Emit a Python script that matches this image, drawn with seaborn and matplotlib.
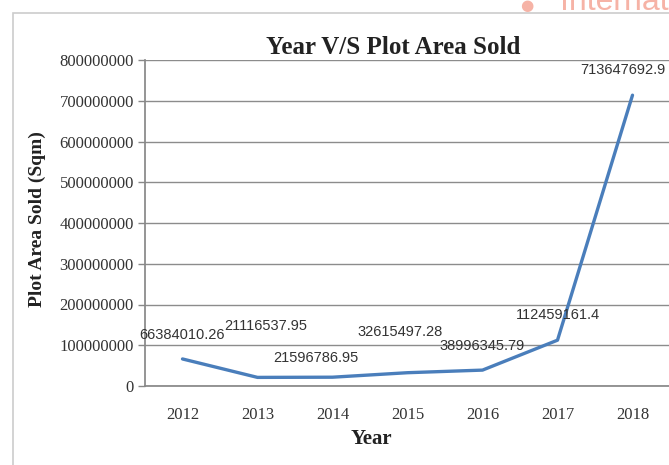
import matplotlib
matplotlib.use("Agg")
import matplotlib.pyplot as plt
from matplotlib.patches import Rectangle
import seaborn as sns
import pandas as pd

years = ["2012", "2013", "2014", "2015", "2016", "2017", "2018"]
area_sold = [66384010.26, 21116537.95, 21596786.95, 32615497.28,
             38996345.79, 112459161.4, 713647692.9]
label_texts = ["66384010.26", "21116537.95", "21596786.95", "32615497.28",
               "38996345.79", "112459161.4", "713647692.9"]
y_ticks = [0, 100000000, 200000000, 300000000, 400000000,
           500000000, 600000000, 700000000, 800000000]

sns.set_theme(style="white")
plt.rcParams["font.family"] = ["Liberation Serif", "DejaVu Serif"]

df = pd.DataFrame({"pos": range(len(years)), "Year": years, "Area": area_sold})

W, H = 669, 465
fig = plt.figure(figsize=(W / 100, H / 100), dpi=100)
fig.patch.set_facecolor("white")

# outer chart frame
fig.patches.append(Rectangle((13 / W, -0.01), 1.0, 1 - 13 / H + 0.01,
                             transform=fig.transFigure, fill=False,
                             edgecolor="#cccccc", linewidth=1.2))

ax = fig.add_axes([145 / W, 1 - 386 / H, (670 - 145) / W, (386 - 60) / H])
sns.lineplot(data=df, x="pos", y="Area", ax=ax, color="#4a7ebb",
             linewidth=2.4, legend=False)

ax.set_xlim(-0.5, len(years) - 0.5)
ax.set_ylim(0, 800000000)
ax.set_yticks(y_ticks)
ax.set_yticklabels([str(v) for v in y_ticks], fontsize=12, color="#333333",
                   family=["Liberation Serif"])
ax.set_xticks(range(len(years)))
ax.set_xticklabels(years, fontsize=12, color="#333333")
ax.set_xticks([i - 0.5 for i in range(len(years) + 1)], minor=True)
ax.tick_params(axis="x", which="major", length=0, pad=15)
ax.tick_params(axis="x", which="minor", length=5, color="#888888", width=1)
ax.tick_params(axis="y", length=5, color="#888888", width=1, pad=3, left=True)
ax.yaxis.grid(True, color="#8c8c8c", linewidth=1)
ax.set_axisbelow(True)
for s in ["top", "right"]:
    ax.spines[s].set_visible(False)
ax.spines["left"].set_color("#888888")
ax.spines["bottom"].set_color("#888888")
ax.set_xlabel("")
ax.set_ylabel("")

# data labels (offsets in pixels)
offsets = [(-1, 24), (8, 51), (-17, 19), (-7, 41), (0, 24), (0, 25), (-10, 25)]
for i, (txt, (dx, dy)) in enumerate(zip(label_texts, offsets)):
    ax.annotate(txt, (i, area_sold[i]), xytext=(dx, dy),
                textcoords="offset pixels", ha="center", va="center",
                fontsize=10.5, color="#333333", family=["Liberation Sans"])

fig.text(393 / W, 1 - 47 / H, "Year V/S Plot Area Sold", ha="center",
         va="center", fontsize=18, fontweight="bold", color="#222222")
fig.text(371 / W, 1 - 439 / H, "Year", ha="center", va="center",
         fontsize=15, fontweight="bold", color="#222222")
fig.text(37 / W, 1 - 219 / H, "Plot Area Sold (Sqm)", ha="center",
         va="center", rotation=90, fontsize=14, fontweight="bold",
         color="#222222")

# faint watermark at top right
fig.text(527 / W, 1 - 6 / H, "\u25cf", ha="center", va="center",
         fontsize=11, color="#f6b3a6", family=["DejaVu Sans"])
fig.text(560 / W, 1 - 10 / H, "Internationa", ha="left", va="baseline",
         fontsize=23, color="#f6b3a6", family=["Liberation Sans"])

fig.savefig("out.png", dpi=100)
